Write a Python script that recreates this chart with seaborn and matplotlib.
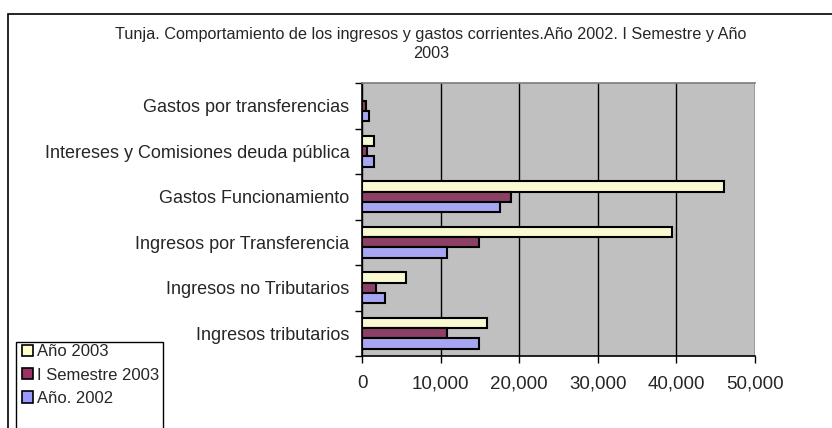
import numpy as np
import pandas as pd
import seaborn as sns
import matplotlib.pyplot as plt
from matplotlib.patches import Patch, Rectangle
from matplotlib.ticker import FuncFormatter, FixedLocator

# datos (millones de pesos aprox.)
categorias = ["Gastos por transferencias",
              "Intereses y Comisiones deuda pública",
              "Gastos Funcionamiento",
              "Ingresos por Transferencia",
              "Ingresos no Tributarios",
              "Ingresos tributarios"]
series = ["Año 2003", "I Semestre 2003", "Año. 2002"]
anio_2003 = [0, 1550, 46000, 39400, 5550, 15950]
sem_2003 = [450, 650, 19000, 14850, 1750, 10850]
anio_2002 = [900, 1550, 17500, 10850, 2900, 14850]
colores = ["#FFFFCC", "#993366", "#9999FF"]
xticks = [0, 10000, 20000, 30000, 40000, 50000]

df = pd.DataFrame({
    "categoria": categorias * 3,
    "serie": [series[0]] * 6 + [series[1]] * 6 + [series[2]] * 6,
    "valor": anio_2003 + sem_2003 + anio_2002,
})

sns.set_theme(style="white")
plt.rcParams["font.family"] = ["Liberation Sans", "DejaVu Sans"]

fig = plt.figure(figsize=(8.32, 4.28), dpi=100)
ax = fig.add_axes([362 / 832, 1 - 356 / 428, (755 - 362) / 832, (356 - 83) / 428])
ax.set_facecolor("#C0C0C0")

sns.barplot(data=df, y="categoria", x="valor", hue="serie", order=categorias,
            hue_order=series, palette=colores, width=0.68, edgecolor="black",
            linewidth=1.5, legend=False, ax=ax, zorder=3)

ax.set_xlim(0, 50000)
ax.set_ylim(len(categorias) - 0.5, -0.5)
ax.set_xticks(xticks)
ax.xaxis.set_major_formatter(FuncFormatter(lambda v, p: f"{int(v):,}"))
ax.grid(axis="x", color="black", linewidth=1, zorder=0)
ax.set_axisbelow(True)
ax.set_xlabel("")
ax.set_ylabel("")

ax.tick_params(axis="x", which="major", bottom=True, length=5, width=1,
               color="black", labelsize=13.5, pad=9)
ax.tick_params(axis="y", which="major", left=False, labelsize=13, pad=3)
ax.yaxis.set_minor_locator(FixedLocator(np.arange(-0.5, len(categorias), 1)))
ax.tick_params(axis="y", which="minor", left=True, length=5, width=1, color="black")

for s in ["left", "bottom"]:
    ax.spines[s].set_color("black")
    ax.spines[s].set_linewidth(1.2)
ax.spines["top"].set_color("#808080")
ax.spines["right"].set_visible(False)

fig.text(431 / 832, 1 - 44 / 428,
         "Tunja. Comportamiento de los ingresos y gastos corrientes.Año 2002. I Semestre y Año\n2003",
         ha="center", va="center", fontsize=11.7, linespacing=1.25)

# marco exterior del grafico
fig.patches.append(Rectangle((8 / 832, -0.1), 1.0, 1 - 14 / 428 + 0.1,
                             transform=fig.transFigure, fill=False,
                             edgecolor="black", linewidth=1.2))

# marco de la leyenda (queda cortado abajo como en el original)
fig.patches.append(Rectangle((16 / 832, -0.05), (163 - 16) / 832, 0.05 + 1 - 342 / 428,
                             transform=fig.transFigure, fill=True, facecolor="white",
                             edgecolor="black", linewidth=1))

handles = [Patch(facecolor=c, edgecolor="black", linewidth=1.2) for c in colores]
leg = fig.legend(handles, series, loc="upper left",
                 bbox_to_anchor=(18 / 832, 1 - 340 / 428), fontsize=12,
                 frameon=False, handlelength=0.65, handleheight=0.65,
                 handletextpad=0.25, labelspacing=0.5, borderpad=0.25,
                 borderaxespad=0)

fig.savefig("out.png", dpi=100)
